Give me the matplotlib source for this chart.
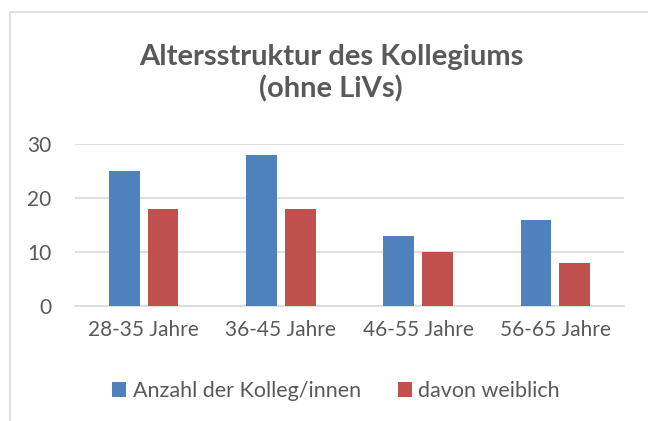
import numpy as np
import matplotlib.pyplot as plt
from matplotlib.patches import Rectangle

categories = ['28-35 Jahre', '36-45 Jahre', '46-55 Jahre', '56-65 Jahre']
anzahl = [25, 28, 13, 16]
weiblich = [18, 18, 10, 8]
series_names = ['Anzahl der Kolleg/innen', 'davon weiblich']

blue = '#4F81BD'
red = '#C0504D'
text_col = '#595959'

plt.rcParams['font.family'] = ['Lato', 'DejaVu Sans']

W, H = 648, 421
fig = plt.figure(figsize=(W / 100, H / 100), dpi=100)

# chart frame running off the right and bottom edge
fig.patches.append(Rectangle((9.5 / W, -0.1), 1.0, 1.1 - 12 / H, transform=fig.transFigure,
                             fill=False, edgecolor='#D9D9D9', linewidth=1.2))

ax = fig.add_axes([75 / W, 1 - 306 / H, (624 - 75) / W, (306 - 144) / H])

x = np.arange(len(categories))
w = 0.223
off = 0.141
ax.bar(x - off, anzahl, w, color=blue, label=series_names[0], zorder=3)
ax.bar(x + off, weiblich, w, color=red, label=series_names[1], zorder=3)

ax.set_xlim(-0.5, len(categories) - 0.5)
ax.set_ylim(0, 30)
ax.set_yticks([0, 10, 20, 30])
ax.set_xticks(x)
ax.set_xticklabels(categories)
ax.yaxis.grid(True, color='#D9D9D9', linewidth=1.2, zorder=0)
for s in ['top', 'right', 'left']:
    ax.spines[s].set_visible(False)
ax.spines['bottom'].set_color('#D9D9D9')
ax.spines['bottom'].set_linewidth(1.2)
ax.tick_params(axis='both', length=0, labelsize=15, labelcolor=text_col)
ax.tick_params(axis='y', pad=17)
ax.tick_params(axis='x', pad=10)

fig.text(331 / W, 1 - 73 / H, 'Altersstruktur des Kollegiums\n(ohne LiVs)', ha='center', va='center',
         fontsize=21, fontweight='bold', color=text_col, linespacing=1.25)

fig.legend(loc='center', bbox_to_anchor=(336 / W, 1 - 391 / H), ncol=2, frameon=False,
           fontsize=15.5, labelcolor=text_col, handlelength=0.65, handleheight=0.65,
           handletextpad=0.3, columnspacing=1.7)

fig.savefig('out.png', dpi=100)
